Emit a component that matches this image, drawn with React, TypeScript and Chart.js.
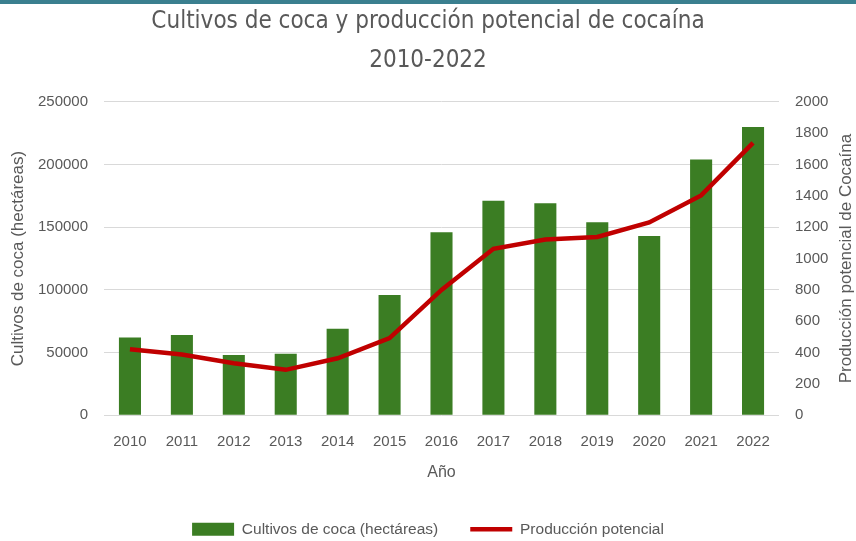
import React, { useEffect, useRef } from "react";
import { Chart, registerables } from "chart.js";

Chart.register(...registerables);

const years = ["2010","2011","2012","2013","2014","2015","2016","2017","2018","2019","2020","2021","2022"];
const cultivos = [62000, 64000, 48000, 49000, 69000, 96000, 146000, 171000, 169000, 154000, 143000, 204000, 230000];
const produccion = [422, 388, 332, 290, 364, 492, 800, 1062, 1122, 1138, 1230, 1403, 1738];

const GREY = "#595959";
const FONT = "'Liberation Sans', Arial, sans-serif";
const NARROW = "'Liberation Sans Narrow', 'DejaVu Sans Condensed', 'Liberation Sans', sans-serif";
const RIGHT_TITLE = "Producción potencial de Cocaína";

const rightTitlePlugin = {
  id: "rightTitle",
  afterDraw(chart: any) {
    const ctx = chart.ctx;
    const scale = chart.scales.y2;
    const area = chart.chartArea;
    ctx.save();
    ctx.fillStyle = GREY;
    ctx.font = `17px ${FONT}`;
    ctx.textAlign = "center";
    ctx.textBaseline = "middle";
    ctx.translate(scale.right - 10, (area.top + area.bottom) / 2);
    ctx.rotate(-Math.PI / 2);
    ctx.fillText(RIGHT_TITLE, 0, 0);
    ctx.restore();
  },
};

export default function App() {
  const ref = useRef<HTMLCanvasElement | null>(null);
  useEffect(() => {
    document.body.style.margin = "0";
    if (!ref.current) return;
    const chart = new Chart(ref.current, {
      type: "bar",
      data: {
        labels: years,
        datasets: [
          {
            type: "line",
            label: "Producción potencial",
            data: produccion,
            borderColor: "#c00000",
            backgroundColor: "#c00000",
            borderWidth: 4.5,
            pointRadius: 0,
            tension: 0,
            yAxisID: "y2",
            order: 0,
            pointStyle: "line",
          },
          {
            type: "bar",
            label: "Cultivos de coca (hectáreas)",
            data: cultivos,
            backgroundColor: "#3b7d23",
            borderWidth: 0,
            yAxisID: "y",
            order: 1,
            barPercentage: 0.85,
            categoryPercentage: 0.5,
            pointStyle: "rect",
          } as any,
        ],
      },
      plugins: [rightTitlePlugin],
      options: {
        animation: false,
        responsive: false,
        devicePixelRatio: 1,
        layout: { padding: { left: 0, right: 0, top: 0, bottom: 0 } },
        plugins: {
          title: {
            display: true,
            text: ["Cultivos de coca y producción potencial de cocaína", "2010-2022"],
            color: GREY,
            font: { family: NARROW, size: 24, weight: "normal", lineHeight: 1.6 },
            padding: { top: 3, bottom: 22 },
          },
          legend: {
            position: "bottom",
            reverse: true,
            labels: {
              usePointStyle: true,
              pointStyleWidth: 42,
              boxHeight: 13,
              color: GREY,
              font: { family: FONT, size: 15.5 },
              padding: 32,
            },
          },
          tooltip: { enabled: false },
        },
        scales: {
          x: {
            grid: { display: false },
            border: { display: false },
            ticks: { color: GREY, font: { family: FONT, size: 15 }, padding: 10 },
            title: {
              display: true,
              text: "Año",
              color: GREY,
              font: { family: FONT, size: 16 },
              padding: { top: 2, bottom: 7 },
            },
          },
          y: {
            position: "left",
            min: 0,
            max: 250000,
            afterFit: (s: any) => { s.width = 104; },
            ticks: {
              stepSize: 50000,
              color: GREY,
              font: { family: FONT, size: 15 },
              padding: 16,
              callback: (v: any) => String(v),
            },
            grid: { color: "#d9d9d9", drawTicks: false, lineWidth: 1 },
            border: { display: false },
            title: {
              display: true,
              text: "Cultivos de coca (hectáreas)",
              color: GREY,
              font: { family: FONT, size: 17 },
              padding: { top: 8, bottom: 0 },
            },
          },
          y2: {
            position: "right",
            min: 0,
            max: 2000,
            afterFit: (s: any) => { s.width = 77; },
            ticks: {
              stepSize: 200,
              color: GREY,
              font: { family: FONT, size: 15 },
              padding: 16,
              callback: (v: any) => String(v),
            },
            grid: { display: false, drawTicks: false },
            border: { display: false },
          },
        },
      },
    });
    return () => chart.destroy();
  }, []);
  return (
    <div style={{ position: "absolute", left: 0, top: 0, width: 856, height: 541, background: "#fff", overflow: "hidden" }}>
      <canvas ref={ref} width={856} height={547} style={{ position: "absolute", left: 0, top: 0 }} />
      <div style={{ position: "absolute", left: 0, top: 0, width: 856, height: 4, background: "#3a7f8f" }} />
    </div>
  );
}
